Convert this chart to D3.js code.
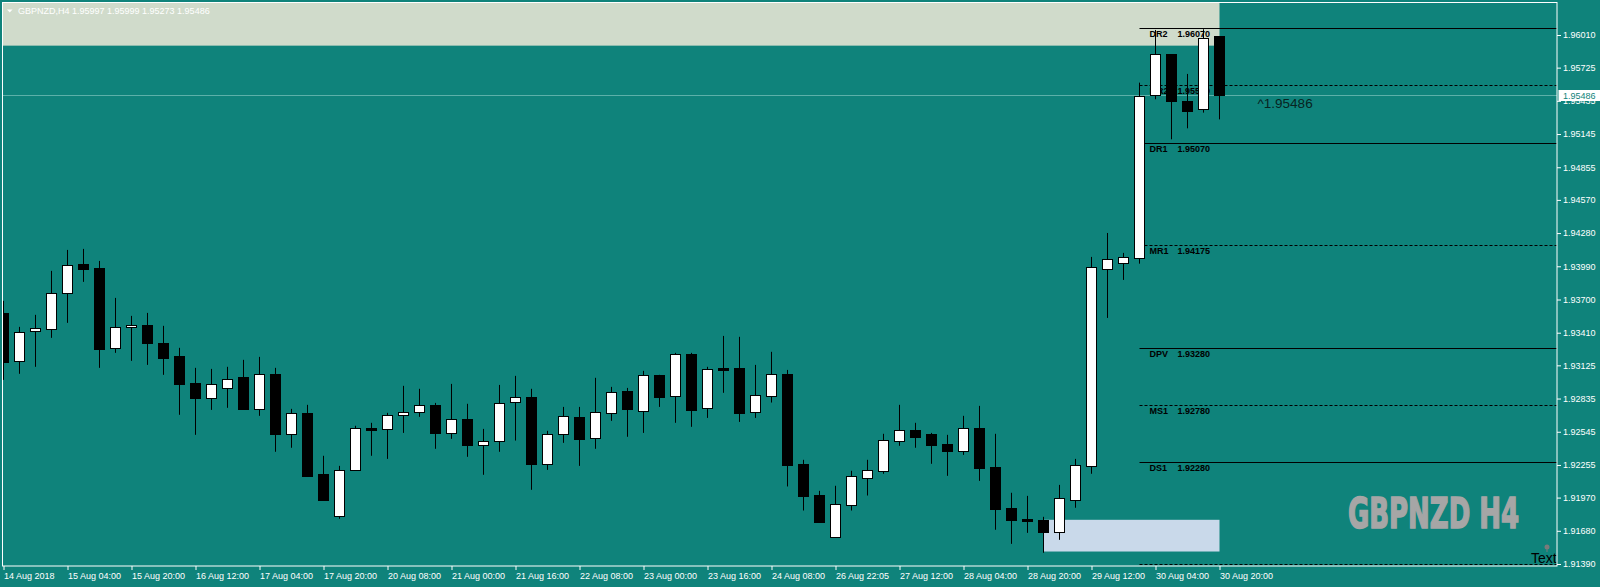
<!DOCTYPE html>
<html>
<head>
<meta charset="utf-8">
<script src="https://cdn.jsdelivr.net/npm/d3@7"></script>
<style>
body { margin: 0; background: #0f837b; }
svg { display: block; font-family: "Liberation Sans", Arial, sans-serif; }
</style>
</head>
<body>
<svg id="chart" width="1600" height="587"></svg>
<script>
// GBPNZD H4 bars, oldest first
const opens  = [1.93583,1.93158,1.93420,1.93437,1.93752,1.94011,1.93976,1.93271,1.93455,1.93478,
                1.93321,1.93208,1.92972,1.92844,1.92931,1.93024,1.92748,1.93051,1.92527,1.92707,
                1.92178,1.91805,1.92206,1.92579,1.92564,1.92686,1.92713,1.92777,1.92535,1.92655,
                1.92425,1.92460,1.92800,1.92850,1.92259,1.92521,1.92675,1.92486,1.92704,1.92902,
                1.92721,1.93042,1.92852,1.93225,1.92748,1.93103,1.93103,1.92713,1.92861,1.93051,
                1.92265,1.91994,1.91630,1.91910,1.92145,1.92206,1.92468,1.92562,1.92527,1.92439,
                1.92381,1.92579,1.92239,1.91881,1.91785,1.91776,1.91671,1.91953,1.92250,1.93970,
                1.94022,1.94066,1.95480,1.95842,1.95434,1.95361,1.95997];
const highs  = [1.93688,1.93461,1.93566,1.93950,1.94133,1.94142,1.94037,1.93714,1.93557,1.93583,
                1.93470,1.93278,1.93103,1.93094,1.93112,1.93173,1.93199,1.93103,1.92745,1.92780,
                1.92335,1.92247,1.92597,1.92623,1.92710,1.92946,1.92920,1.92797,1.92963,1.92789,
                1.92570,1.92954,1.93033,1.92920,1.92553,1.92762,1.92762,1.93016,1.92937,1.92928,
                1.93077,1.93042,1.93234,1.93234,1.93112,1.93382,1.93374,1.93129,1.93243,1.93085,
                1.92300,1.92029,1.92073,1.92204,1.92300,1.92527,1.92780,1.92623,1.92535,1.92518,
                1.92684,1.92771,1.92527,1.92012,1.91985,1.91802,1.92081,1.92308,1.94072,1.94281,
                1.94107,1.95594,1.96054,1.95842,1.95670,1.96060,1.95999];
const lows   = [1.92998,1.93051,1.93112,1.93365,1.93496,1.93854,1.93103,1.93234,1.93164,1.93129,
                1.93042,1.92693,1.92518,1.92736,1.92754,1.92736,1.92684,1.92370,1.92405,1.92160,
                1.91951,1.91785,1.92206,1.92335,1.92308,1.92535,1.92675,1.92396,1.92483,1.92326,
                1.92169,1.92370,1.92468,1.92038,1.92212,1.92448,1.92247,1.92396,1.92640,1.92501,
                1.92535,1.92762,1.92623,1.92588,1.92666,1.92885,1.92631,1.92666,1.92800,1.92067,
                1.91857,1.91752,1.91630,1.91857,1.91988,1.92178,1.92422,1.92405,1.92265,1.92160,
                1.92343,1.92116,1.91689,1.91566,1.91662,1.91488,1.91601,1.91881,1.92178,1.93539,
                1.93871,1.94013,1.95449,1.95099,1.95195,1.95332,1.95273];
const closes = [1.93158,1.93415,1.93449,1.93755,1.93999,1.93967,1.93269,1.93458,1.93476,1.93321,
                1.93190,1.92963,1.92841,1.92963,1.93007,1.92745,1.93051,1.92527,1.92707,1.92160,
                1.91951,1.92210,1.92576,1.92562,1.92690,1.92716,1.92777,1.92535,1.92655,1.92431,
                1.92463,1.92795,1.92847,1.92265,1.92524,1.92681,1.92483,1.92716,1.92891,1.92745,
                1.93039,1.92850,1.93222,1.92739,1.93092,1.93085,1.92710,1.92865,1.93051,1.92256,
                1.91988,1.91761,1.91916,1.92160,1.92212,1.92474,1.92562,1.92501,1.92431,1.92378,
                1.92579,1.92230,1.91872,1.91776,1.91767,1.91671,1.91968,1.92256,1.93985,1.94054,
                1.94072,1.95480,1.95842,1.95428,1.95349,1.95981,1.95486];

// one label every 4 bars
const timeLabels = ["14 Aug 2018","15 Aug 04:00","15 Aug 20:00","16 Aug 12:00","17 Aug 04:00",
                    "17 Aug 20:00","20 Aug 08:00","21 Aug 00:00","21 Aug 16:00","22 Aug 08:00",
                    "23 Aug 00:00","23 Aug 16:00","24 Aug 08:00","26 Aug 22:05","27 Aug 12:00",
                    "28 Aug 04:00","28 Aug 20:00","29 Aug 12:00","30 Aug 04:00","30 Aug 20:00"];
const priceTicks = [1.96010,1.95725,1.95435,1.95145,1.94855,1.94570,1.94280,1.93990,1.93700,
                    1.93410,1.93125,1.92835,1.92545,1.92255,1.91970,1.91680,1.91390];

// pivot levels
const levelNames  = ["DR2","MR2","DR1","MR1","DPV","MS1","DS1","MS2"];
const levelPrices = [1.96070,1.95570,1.95070,1.94175,1.93280,1.92780,1.92280,1.91390];
const levelDashed = [false,true,false,true,false,true,false,true];
const levelStart = 71;

// rectangle objects: [fromBar, toBar, priceA, priceB]
const zoneTop = [-5, 76, 1.96500, 1.95917];
const zoneBottom = [65, 76, 1.91776, 1.91499];

const symbol = "GBPNZD,H4";
const bars = opens.map((o, i) => ({i: i, o: o, h: highs[i], l: lows[i], c: closes[i]}));
const last = bars[bars.length - 1];

const plot = {left: 2.5, top: 2.5, right: 1557, bottom: 566};

const x = d3.scaleLinear().domain([0, 76]).range([3.5, 1219.5]);
const y = d3.scaleLinear().domain([1.91390, 1.96010]).range([564, 35]);

const svg = d3.select("#chart");

svg.append("rect").attr("width", 1600).attr("height", 587).attr("fill", "#0f837b");

svg.append("clipPath").attr("id", "clip")
  .append("rect")
  .attr("x", plot.left).attr("y", plot.top)
  .attr("width", plot.right - plot.left).attr("height", plot.bottom - plot.top);

const g = svg.append("g").attr("clip-path", "url(#clip)");

// zones
g.append("rect")
  .attr("x", x(zoneTop[0])).attr("y", y(zoneTop[2]))
  .attr("width", x(zoneTop[1]) - x(zoneTop[0]))
  .attr("height", y(zoneTop[3]) - y(zoneTop[2]))
  .attr("fill", "#d0dbcb");

g.append("rect")
  .attr("x", x(zoneBottom[0])).attr("y", y(zoneBottom[2]))
  .attr("width", x(zoneBottom[1]) - x(zoneBottom[0]))
  .attr("height", y(zoneBottom[3]) - y(zoneBottom[2]))
  .attr("fill", "#c9d9ea");

// bid line
g.append("line")
  .attr("x1", plot.left).attr("x2", plot.right)
  .attr("y1", Math.round(y(last.c)) + 0.5).attr("y2", Math.round(y(last.c)) + 0.5)
  .attr("stroke", "#5cb0a9").attr("stroke-width", 1);

// pivot lines + labels
levelPrices.forEach((p, k) => {
  const ly = Math.round(y(p)) + 0.5;
  g.append("line")
    .attr("x1", x(levelStart)).attr("x2", plot.right)
    .attr("y1", ly).attr("y2", ly)
    .attr("stroke", "#000").attr("stroke-width", 1.2)
    .attr("stroke-dasharray", levelDashed[k] ? "3,2" : null);
  g.append("text")
    .attr("x", x(levelStart) + 10).attr("y", ly + 8)
    .attr("font-size", 9).attr("font-weight", "bold").attr("fill", "#000")
    .text(levelNames[k]);
  g.append("text")
    .attr("x", x(levelStart) + 38).attr("y", ly + 8)
    .attr("font-size", 9).attr("font-weight", "bold").attr("fill", "#000")
    .text(p.toFixed(5));
});

// candles
const candle = g.selectAll(".candle").data(bars).enter().append("g").attr("class", "candle");

candle.append("line")
  .attr("x1", d => x(d.i)).attr("x2", d => x(d.i))
  .attr("y1", d => y(d.h)).attr("y2", d => y(d.l))
  .attr("stroke", "#000").attr("stroke-width", 1);

candle.append("rect")
  .attr("x", d => x(d.i) - 5)
  .attr("y", d => Math.round(y(Math.max(d.o, d.c))) + 0.5)
  .attr("width", 10)
  .attr("height", d => Math.max(1, Math.round(Math.abs(y(d.o) - y(d.c)))))
  .attr("fill", d => d.c > d.o ? "#fff" : "#000")
  .attr("stroke", "#000").attr("stroke-width", 1);

// price text object
g.append("text")
  .attr("x", x(76) + 38).attr("y", y(last.c) + 13)
  .attr("font-size", 13.5).attr("fill", "#072422")
  .text("^" + last.c.toFixed(5));

// watermark
g.append("text")
  .attr("x", 1348).attr("y", 528)
  .attr("font-family", "'Liberation Sans Narrow','DejaVu Sans Condensed','Liberation Sans',sans-serif")
  .attr("font-size", 43).attr("font-weight", "bold")
  .attr("textLength", 171).attr("lengthAdjust", "spacingAndGlyphs")
  .attr("fill", "#a6a6a6").attr("stroke", "#a6a6a6").attr("stroke-width", 1.6)
  .text("GBPNZD H4");

// "Text" object with anchor marker
g.append("circle").attr("cx", 1547).attr("cy", 547).attr("r", 2.5).attr("fill", "#7a7a7a");
g.append("line").attr("x1", 1547).attr("x2", 1547).attr("y1", 549).attr("y2", 552)
  .attr("stroke", "#7a7a7a").attr("stroke-width", 1);
g.append("text")
  .attr("x", 1531).attr("y", 563)
  .attr("font-size", 14).attr("fill", "#000")
  .text("Text");

// header
svg.append("path").attr("d", "M7,9.5 L12.5,9.5 L9.75,12.5 Z").attr("fill", "#fff");
svg.append("text")
  .attr("x", 18).attr("y", 14)
  .attr("font-size", 9).attr("fill", "#fff")
  .text(symbol + "  " + [last.o, last.h, last.l, last.c].map(v => v.toFixed(5)).join(" "));

// frame
svg.append("rect")
  .attr("x", plot.left).attr("y", plot.top)
  .attr("width", plot.right - plot.left).attr("height", plot.bottom - plot.top)
  .attr("fill", "none").attr("stroke", "#fff").attr("stroke-width", 1);

// price axis
const yAxis = svg.append("g")
  .attr("transform", "translate(" + plot.right + ",0)")
  .call(d3.axisRight(y).tickValues(priceTicks).tickSize(4).tickPadding(2)
    .tickFormat(d3.format(".5f")));
yAxis.select(".domain").remove();
yAxis.selectAll("line").attr("stroke", "#fff");
yAxis.selectAll("text").attr("fill", "#fff").attr("font-size", 9)
  .attr("font-family", "'Liberation Sans', Arial, sans-serif");

// current price box
svg.append("rect")
  .attr("x", plot.right + 1.5).attr("y", Math.round(y(last.c)) - 5)
  .attr("width", 42).attr("height", 11).attr("fill", "#fff");
svg.append("text")
  .attr("x", plot.right + 6).attr("y", Math.round(y(last.c)) + 4)
  .attr("font-size", 9).attr("fill", "#0f837b")
  .text(last.c.toFixed(5));

// time axis
const xAxis = svg.append("g")
  .attr("transform", "translate(0," + plot.bottom + ")")
  .call(d3.axisBottom(x).tickValues(timeLabels.map((t, k) => k * 4)).tickSize(4)
    .tickFormat((d, k) => timeLabels[k]));
xAxis.select(".domain").remove();
xAxis.selectAll("line").attr("stroke", "#fff");
xAxis.selectAll("text").attr("fill", "#fff").attr("font-size", 9)
  .attr("text-anchor", "start").attr("x", 0)
  .attr("font-family", "'Liberation Sans', Arial, sans-serif");
</script>
</body>
</html>
